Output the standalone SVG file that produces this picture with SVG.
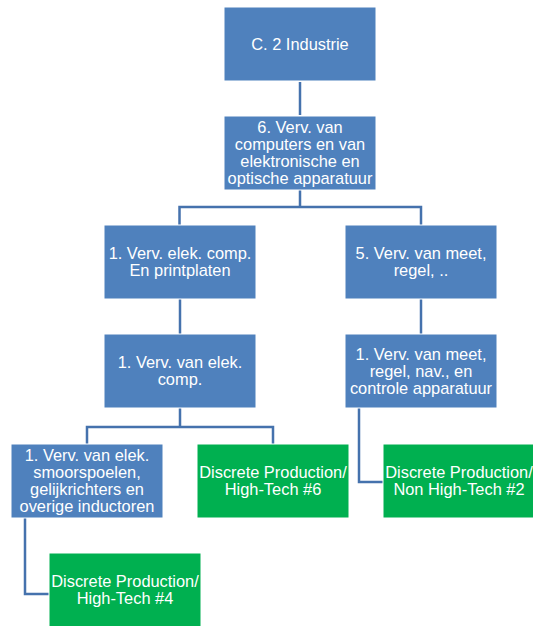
<svg xmlns="http://www.w3.org/2000/svg" width="533" height="626" viewBox="0 0 533 626">
<style>
.b{fill:#4F81BD;stroke:#ffffff;stroke-width:1}
.g{fill:#00B050;stroke:#ffffff;stroke-width:1}
.t{fill:#ffffff;font-family:"Liberation Sans",Arial,sans-serif;font-size:16.4px;text-anchor:middle}
.c{fill:none;stroke:#4572AD;stroke-width:2.5}
</style>
<rect width="533" height="626" fill="#ffffff"/>
<g id="connectors">
<path class="c" d="M300,82 V115"/>
<path class="c" d="M300,190 V207 M179.5,225 V207 H421 V225"/>
<path class="c" d="M180,299 V334"/>
<path class="c" d="M421,299 V334"/>
<path class="c" d="M180,408 V427 M87,444 V427 H273 V444"/>
<path class="c" d="M359,408 V482 H383"/>
<path class="c" d="M25,518 V594 H49"/>
</g>
<g id="n1"><rect class="b" x="224" y="7" width="152" height="74"/><text class="t" x="300" y="49.8">C. 2 Industrie</text></g>
<g id="n2"><rect class="b" x="224" y="116" width="152" height="74"/><text class="t" x="300" y="133.3">6. Verv. van<tspan x="300" dy="17">computers en van</tspan><tspan x="300" dy="17">elektronische en</tspan><tspan x="300" dy="17">optische apparatuur</tspan></text></g>
<g id="n3"><rect class="b" x="104" y="225" width="152" height="74"/><text class="t" x="180" y="259.3">1. Verv. elek. comp.<tspan x="180" dy="17">En printplaten</tspan></text></g>
<g id="n4"><rect class="b" x="345" y="225" width="152" height="74"/><text class="t" x="421" y="259.3">5. Verv. van meet,<tspan x="421" dy="17">regel, ..</tspan></text></g>
<g id="n5"><rect class="b" x="104" y="334" width="152" height="74"/><text class="t" x="180" y="368.3">1. Verv. van elek.<tspan x="180" dy="17">comp.</tspan></text></g>
<g id="n6"><rect class="b" x="345" y="334" width="152" height="74"/><text class="t" x="421" y="359.8">1. Verv. van meet,<tspan x="421" dy="17">regel, nav., en</tspan><tspan x="421" dy="17">controle apparatuur</tspan></text></g>
<g id="n7"><rect class="b" x="11" y="444" width="152" height="74"/><text class="t" x="87" y="461.3">1. Verv. van elek.<tspan x="87" dy="17">smoorspoelen,</tspan><tspan x="87" dy="17">gelijkrichters en</tspan><tspan x="87" dy="17">overige inductoren</tspan></text></g>
<g id="n8"><rect class="g" x="197" y="444" width="152" height="74"/><text class="t" x="273" y="478.3">Discrete Production/<tspan x="273" dy="17">High-Tech #6</tspan></text></g>
<g id="n9"><rect class="g" x="383" y="444" width="152" height="74"/><text class="t" x="459" y="478.3">Discrete Production/<tspan x="459" dy="17">Non High-Tech #2</tspan></text></g>
<g id="n10"><rect class="g" x="49" y="553" width="152" height="74"/><text class="t" x="125" y="587.3">Discrete Production/<tspan x="125" dy="17">High-Tech #4</tspan></text></g>
</svg>
